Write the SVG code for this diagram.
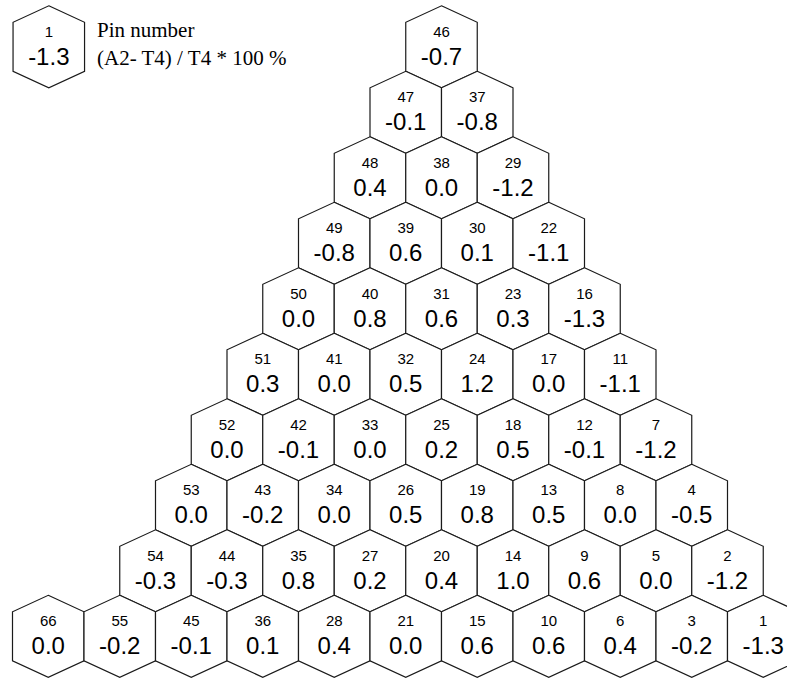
<svg xmlns="http://www.w3.org/2000/svg" xmlns:xlink="http://www.w3.org/1999/xlink" width="787" height="679" viewBox="0 0 787 679">
<style>
.hx{fill:#fff;stroke:#1a1a1a;stroke-width:1.2}
.n{font-family:"Liberation Sans",Arial,sans-serif;font-size:15px;text-anchor:middle;fill:#000}
.v{font-family:"Liberation Sans",Arial,sans-serif;font-size:24px;text-anchor:middle;fill:#000}
.lg{font-family:"Liberation Serif","Times New Roman",serif;font-size:21px;fill:#000}
</style>
<defs>
<polygon id="hex" class="hx" points="0,-41 35.75,-24.5 35.75,24.5 0,41 -35.75,24.5 -35.75,-24.5"/>
</defs>
<rect width="787" height="679" fill="#fff"/>
<g id="legend">
<g id="legend-hex" transform="translate(48.8,46.8)"><use href="#hex"/><text class="n" y="-10">1</text><text class="v" y="18">-1.3</text></g>
<text class="lg" x="97" y="36.5">Pin number</text>
<text class="lg" x="97" y="65">(A2- T4) / T4 * 100 %</text>
</g>
<g id="nodes">
<g id="pin46" transform="translate(441.5,46.8)"><use href="#hex"/><text class="n" y="-10">46</text><text class="v" y="18">-0.7</text></g>
<g id="pin47" transform="translate(405.75,112.3)"><use href="#hex"/><text class="n" y="-10">47</text><text class="v" y="18">-0.1</text></g>
<g id="pin37" transform="translate(477.25,112.3)"><use href="#hex"/><text class="n" y="-10">37</text><text class="v" y="18">-0.8</text></g>
<g id="pin48" transform="translate(370,177.8)"><use href="#hex"/><text class="n" y="-10">48</text><text class="v" y="18">0.4</text></g>
<g id="pin38" transform="translate(441.5,177.8)"><use href="#hex"/><text class="n" y="-10">38</text><text class="v" y="18">0.0</text></g>
<g id="pin29" transform="translate(513,177.8)"><use href="#hex"/><text class="n" y="-10">29</text><text class="v" y="18">-1.2</text></g>
<g id="pin49" transform="translate(334.25,243.3)"><use href="#hex"/><text class="n" y="-10">49</text><text class="v" y="18">-0.8</text></g>
<g id="pin39" transform="translate(405.75,243.3)"><use href="#hex"/><text class="n" y="-10">39</text><text class="v" y="18">0.6</text></g>
<g id="pin30" transform="translate(477.25,243.3)"><use href="#hex"/><text class="n" y="-10">30</text><text class="v" y="18">0.1</text></g>
<g id="pin22" transform="translate(548.75,243.3)"><use href="#hex"/><text class="n" y="-10">22</text><text class="v" y="18">-1.1</text></g>
<g id="pin50" transform="translate(298.5,308.8)"><use href="#hex"/><text class="n" y="-10">50</text><text class="v" y="18">0.0</text></g>
<g id="pin40" transform="translate(370,308.8)"><use href="#hex"/><text class="n" y="-10">40</text><text class="v" y="18">0.8</text></g>
<g id="pin31" transform="translate(441.5,308.8)"><use href="#hex"/><text class="n" y="-10">31</text><text class="v" y="18">0.6</text></g>
<g id="pin23" transform="translate(513,308.8)"><use href="#hex"/><text class="n" y="-10">23</text><text class="v" y="18">0.3</text></g>
<g id="pin16" transform="translate(584.5,308.8)"><use href="#hex"/><text class="n" y="-10">16</text><text class="v" y="18">-1.3</text></g>
<g id="pin51" transform="translate(262.75,374.3)"><use href="#hex"/><text class="n" y="-10">51</text><text class="v" y="18">0.3</text></g>
<g id="pin41" transform="translate(334.25,374.3)"><use href="#hex"/><text class="n" y="-10">41</text><text class="v" y="18">0.0</text></g>
<g id="pin32" transform="translate(405.75,374.3)"><use href="#hex"/><text class="n" y="-10">32</text><text class="v" y="18">0.5</text></g>
<g id="pin24" transform="translate(477.25,374.3)"><use href="#hex"/><text class="n" y="-10">24</text><text class="v" y="18">1.2</text></g>
<g id="pin17" transform="translate(548.75,374.3)"><use href="#hex"/><text class="n" y="-10">17</text><text class="v" y="18">0.0</text></g>
<g id="pin11" transform="translate(620.25,374.3)"><use href="#hex"/><text class="n" y="-10">11</text><text class="v" y="18">-1.1</text></g>
<g id="pin52" transform="translate(227,439.8)"><use href="#hex"/><text class="n" y="-10">52</text><text class="v" y="18">0.0</text></g>
<g id="pin42" transform="translate(298.5,439.8)"><use href="#hex"/><text class="n" y="-10">42</text><text class="v" y="18">-0.1</text></g>
<g id="pin33" transform="translate(370,439.8)"><use href="#hex"/><text class="n" y="-10">33</text><text class="v" y="18">0.0</text></g>
<g id="pin25" transform="translate(441.5,439.8)"><use href="#hex"/><text class="n" y="-10">25</text><text class="v" y="18">0.2</text></g>
<g id="pin18" transform="translate(513,439.8)"><use href="#hex"/><text class="n" y="-10">18</text><text class="v" y="18">0.5</text></g>
<g id="pin12" transform="translate(584.5,439.8)"><use href="#hex"/><text class="n" y="-10">12</text><text class="v" y="18">-0.1</text></g>
<g id="pin7" transform="translate(656,439.8)"><use href="#hex"/><text class="n" y="-10">7</text><text class="v" y="18">-1.2</text></g>
<g id="pin53" transform="translate(191.25,505.3)"><use href="#hex"/><text class="n" y="-10">53</text><text class="v" y="18">0.0</text></g>
<g id="pin43" transform="translate(262.75,505.3)"><use href="#hex"/><text class="n" y="-10">43</text><text class="v" y="18">-0.2</text></g>
<g id="pin34" transform="translate(334.25,505.3)"><use href="#hex"/><text class="n" y="-10">34</text><text class="v" y="18">0.0</text></g>
<g id="pin26" transform="translate(405.75,505.3)"><use href="#hex"/><text class="n" y="-10">26</text><text class="v" y="18">0.5</text></g>
<g id="pin19" transform="translate(477.25,505.3)"><use href="#hex"/><text class="n" y="-10">19</text><text class="v" y="18">0.8</text></g>
<g id="pin13" transform="translate(548.75,505.3)"><use href="#hex"/><text class="n" y="-10">13</text><text class="v" y="18">0.5</text></g>
<g id="pin8" transform="translate(620.25,505.3)"><use href="#hex"/><text class="n" y="-10">8</text><text class="v" y="18">0.0</text></g>
<g id="pin4" transform="translate(691.75,505.3)"><use href="#hex"/><text class="n" y="-10">4</text><text class="v" y="18">-0.5</text></g>
<g id="pin54" transform="translate(155.5,570.8)"><use href="#hex"/><text class="n" y="-10">54</text><text class="v" y="18">-0.3</text></g>
<g id="pin44" transform="translate(227,570.8)"><use href="#hex"/><text class="n" y="-10">44</text><text class="v" y="18">-0.3</text></g>
<g id="pin35" transform="translate(298.5,570.8)"><use href="#hex"/><text class="n" y="-10">35</text><text class="v" y="18">0.8</text></g>
<g id="pin27" transform="translate(370,570.8)"><use href="#hex"/><text class="n" y="-10">27</text><text class="v" y="18">0.2</text></g>
<g id="pin20" transform="translate(441.5,570.8)"><use href="#hex"/><text class="n" y="-10">20</text><text class="v" y="18">0.4</text></g>
<g id="pin14" transform="translate(513,570.8)"><use href="#hex"/><text class="n" y="-10">14</text><text class="v" y="18">1.0</text></g>
<g id="pin9" transform="translate(584.5,570.8)"><use href="#hex"/><text class="n" y="-10">9</text><text class="v" y="18">0.6</text></g>
<g id="pin5" transform="translate(656,570.8)"><use href="#hex"/><text class="n" y="-10">5</text><text class="v" y="18">0.0</text></g>
<g id="pin2" transform="translate(727.5,570.8)"><use href="#hex"/><text class="n" y="-10">2</text><text class="v" y="18">-1.2</text></g>
<g id="pin66" transform="translate(48.25,636.3)"><use href="#hex"/><text class="n" y="-10">66</text><text class="v" y="18">0.0</text></g>
<g id="pin55" transform="translate(119.75,636.3)"><use href="#hex"/><text class="n" y="-10">55</text><text class="v" y="18">-0.2</text></g>
<g id="pin45" transform="translate(191.25,636.3)"><use href="#hex"/><text class="n" y="-10">45</text><text class="v" y="18">-0.1</text></g>
<g id="pin36" transform="translate(262.75,636.3)"><use href="#hex"/><text class="n" y="-10">36</text><text class="v" y="18">0.1</text></g>
<g id="pin28" transform="translate(334.25,636.3)"><use href="#hex"/><text class="n" y="-10">28</text><text class="v" y="18">0.4</text></g>
<g id="pin21" transform="translate(405.75,636.3)"><use href="#hex"/><text class="n" y="-10">21</text><text class="v" y="18">0.0</text></g>
<g id="pin15" transform="translate(477.25,636.3)"><use href="#hex"/><text class="n" y="-10">15</text><text class="v" y="18">0.6</text></g>
<g id="pin10" transform="translate(548.75,636.3)"><use href="#hex"/><text class="n" y="-10">10</text><text class="v" y="18">0.6</text></g>
<g id="pin6" transform="translate(620.25,636.3)"><use href="#hex"/><text class="n" y="-10">6</text><text class="v" y="18">0.4</text></g>
<g id="pin3" transform="translate(691.75,636.3)"><use href="#hex"/><text class="n" y="-10">3</text><text class="v" y="18">-0.2</text></g>
<g id="pin1" transform="translate(763.25,636.3)"><use href="#hex"/><text class="n" y="-10">1</text><text class="v" y="18">-1.3</text></g>
</g>
</svg>
